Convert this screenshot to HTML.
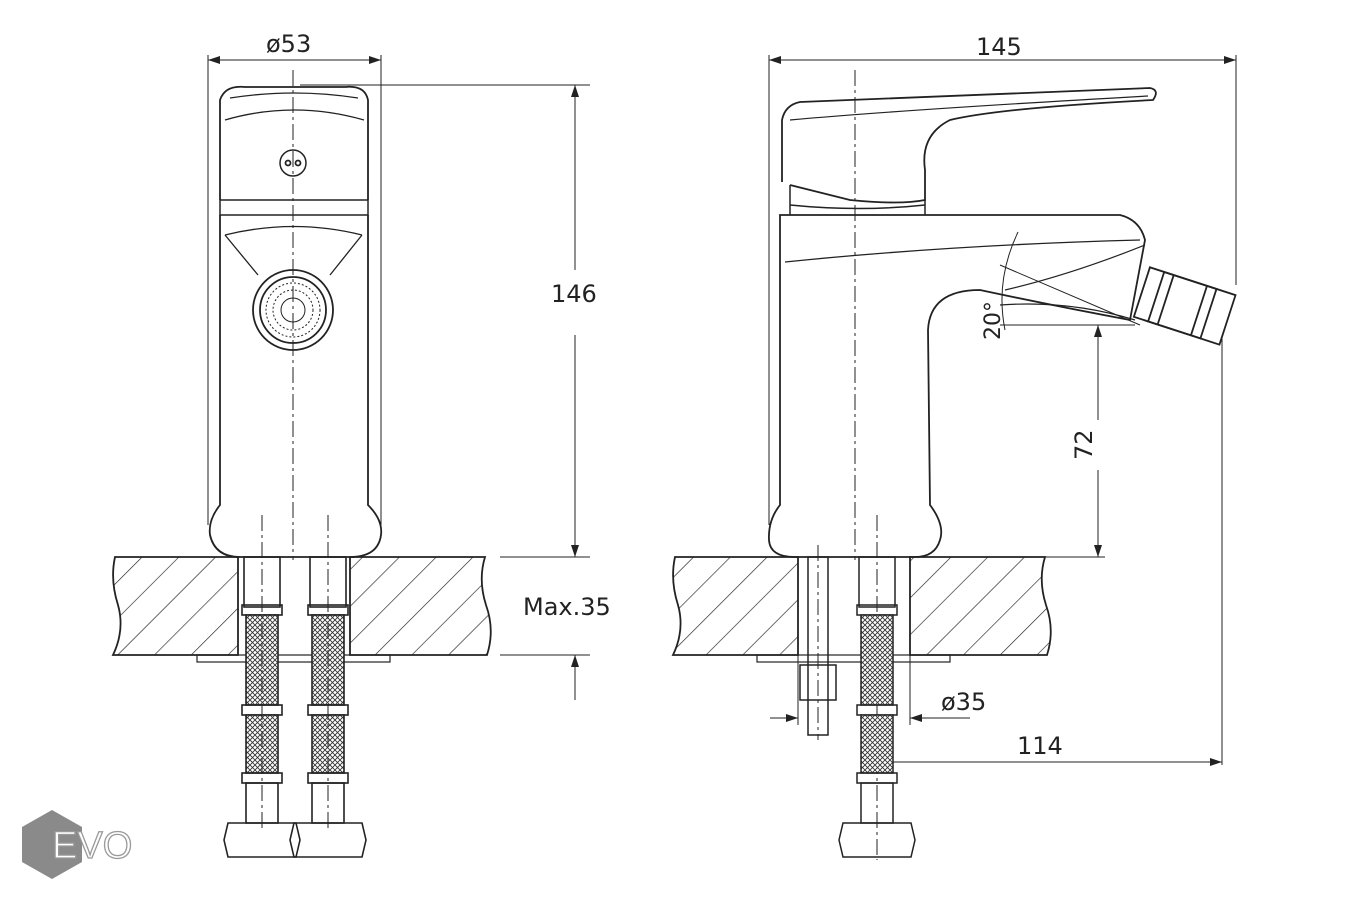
<!DOCTYPE html>
<html><head><meta charset="utf-8"><style>
html,body{margin:0;padding:0;background:#fff;}
svg{display:block;}
text{font-family:"DejaVu Sans","Liberation Sans",sans-serif;fill:#222;}
</style></head><body>
<svg width="1350" height="900" viewBox="0 0 1350 900" xmlns="http://www.w3.org/2000/svg">
<defs>
<pattern id="hatch" patternUnits="userSpaceOnUse" width="26" height="26" patternTransform="rotate(45)">
<rect width="26" height="26" fill="#fff"/><line x1="0" y1="0" x2="0" y2="26" stroke="#222" stroke-width="1.3"/>
</pattern>
<pattern id="mesh" patternUnits="userSpaceOnUse" width="5" height="5">
<rect width="5" height="5" fill="#fff"/><path d="M0 0L5 5M5 0L0 5" stroke="#333" stroke-width="0.9"/>
</pattern>
<marker id="ar" markerWidth="12" markerHeight="8" refX="12" refY="4" orient="auto" markerUnits="userSpaceOnUse">
<path d="M0 0L12 4L0 8Z" fill="#222"/></marker>
</defs>
<g fill="none" stroke="#222" stroke-width="1.8">

<!-- LEFT VIEW -->
<path d="M115 557 L238 557 L238 655 L113 655 Q125 630 118 605 Q110 580 115 557Z" fill="url(#hatch)"/>
<path d="M350 557 L485 557 Q478 580 486 605 Q495 630 487 655 L350 655Z" fill="url(#hatch)"/>
<rect x="197" y="655" width="193" height="7" stroke-width="1.2"/>
<path d="M220 215 L368 215 L368 200 L220 200 Z" stroke-width="1.5"/>
<path d="M220 200 L220 100 Q225 85 245 87 L345 87 Q365 85 368 100 L368 200" />
<path d="M225 120 Q294 100 364 120 M230 98 Q294 88 358 98" stroke-width="1.3"/>
<circle cx="293" cy="163" r="13" stroke-width="1.5"/>
<circle cx="288" cy="163" r="2.5"/><circle cx="298" cy="163" r="2.5"/>
<path d="M220 215 L220 505 Q208 520 210 535 Q215 557 240 557 L350 557 Q378 557 381 535 Q383 520 368 505 L368 215" />
<path d="M225 235 L258 275 M362 235 L330 275 M225 235 Q294 218 362 235" stroke-width="1.3"/>
<circle cx="293" cy="310" r="40"/><circle cx="293" cy="310" r="33"/>
<circle cx="293" cy="310" r="27" stroke-width="1" stroke-dasharray="2 2"/>
<circle cx="293" cy="310" r="20" stroke-width="1" stroke-dasharray="2 2"/>
<circle cx="293" cy="310" r="12" stroke-width="1"/>
<g stroke-width="1.6">
<rect x="244" y="557" width="36" height="50"/><rect x="310" y="557" width="36" height="50"/>
<rect x="242" y="605" width="40" height="10"/><rect x="308" y="605" width="40" height="10"/>
<rect x="246" y="615" width="32" height="90" fill="url(#mesh)"/><rect x="312" y="615" width="32" height="90" fill="url(#mesh)"/>
<rect x="242" y="705" width="40" height="10"/><rect x="308" y="705" width="40" height="10"/>
<rect x="246" y="715" width="32" height="58" fill="url(#mesh)"/><rect x="312" y="715" width="32" height="58" fill="url(#mesh)"/>
<rect x="242" y="773" width="40" height="10"/><rect x="308" y="773" width="40" height="10"/>
<rect x="246" y="783" width="32" height="40"/><rect x="312" y="783" width="32" height="40"/>
<path d="M228 823 L296 823 L300 840 L296 857 L228 857 L224 840Z"/>
<path d="M294 823 L362 823 L366 840 L362 857 L294 857 L290 840Z"/>
</g>
<g stroke-width="1">
<line x1="208" y1="55" x2="208" y2="525"/><line x1="381" y1="55" x2="381" y2="525"/>
<line x1="208" y1="60" x2="381" y2="60" marker-end="url(#ar)"/>
<line x1="381" y1="60" x2="208" y2="60" marker-end="url(#ar)"/>
<line x1="300" y1="85" x2="590" y2="85"/><line x1="500" y1="557" x2="590" y2="557"/>
<line x1="500" y1="655" x2="590" y2="655"/>
<line x1="575" y1="270" x2="575" y2="85" marker-end="url(#ar)"/>
<line x1="575" y1="335" x2="575" y2="557" marker-end="url(#ar)"/>
<line x1="575" y1="700" x2="575" y2="655" marker-end="url(#ar)"/>
<line x1="293" y1="70" x2="293" y2="560" stroke-dasharray="16 4 3 4"/>
<line x1="262" y1="515" x2="262" y2="830" stroke-dasharray="16 4 3 4"/>
<line x1="328" y1="515" x2="328" y2="830" stroke-dasharray="16 4 3 4"/>
</g>

<!-- RIGHT VIEW -->
<path d="M675 557 L798 557 L798 655 L673 655 Q685 630 678 605 Q670 580 675 557Z" fill="url(#hatch)"/>
<path d="M910 557 L1045 557 Q1038 580 1046 605 Q1055 630 1047 655 L910 655Z" fill="url(#hatch)"/>
<rect x="757" y="655" width="193" height="7" stroke-width="1.2"/>
<path d="M782 182 L782 120 Q785 105 800 102 L1150 88 Q1160 90 1153 100 Q1000 108 950 120 Q920 135 925 170 L925 200 Q900 205 850 200 L790 185"/>
<path d="M790 120 Q900 110 1148 96" stroke-width="1.2"/>
<path d="M790 185 L790 215 M925 200 L925 215 M790 205 Q860 212 925 205" stroke-width="1.5"/>
<path d="M780 215 L1120 215 Q1140 220 1145 240 L1130 320 Q1050 305 980 290 Q930 290 928 330 L930 505 Q945 525 940 540 Q935 557 915 557 L795 557 Q770 557 769 540 Q768 520 780 505 Z"/>
<path d="M785 262 Q950 245 1140 240" stroke-width="1.3"/>
<path d="M1005 290 Q1070 275 1145 245 M1000 305 Q1070 300 1135 320" stroke-width="1.2"/>
<g transform="rotate(18 1185 305)">
<rect x="1140" y="280" width="90" height="52"/>
<rect x="1155" y="280" width="55" height="52"/>
<line x1="1165" y1="280" x2="1165" y2="332"/><line x1="1200" y1="280" x2="1200" y2="332"/>
</g>
<g stroke-width="1">
<line x1="769" y1="55" x2="769" y2="525"/><line x1="1236" y1="55" x2="1236" y2="285"/>
<line x1="769" y1="60" x2="1236" y2="60" marker-end="url(#ar)"/>
<line x1="1236" y1="60" x2="769" y2="60" marker-end="url(#ar)"/>
<line x1="1040" y1="557" x2="1105" y2="557"/>
<line x1="1000" y1="325" x2="1135" y2="325"/>
<line x1="1000" y1="265" x2="1140" y2="325"/>
<path d="M1018 232 Q995 280 1005 330" />
<line x1="1098" y1="420" x2="1098" y2="325" marker-end="url(#ar)"/>
<line x1="1098" y1="470" x2="1098" y2="557" marker-end="url(#ar)"/>
<line x1="1222" y1="335" x2="1222" y2="765"/>
<line x1="877" y1="762" x2="1222" y2="762" marker-end="url(#ar)"/>
<line x1="1222" y1="762" x2="877" y2="762" marker-end="url(#ar)"/>
<line x1="770" y1="718" x2="798" y2="718" marker-end="url(#ar)"/>
<line x1="910" y1="718" x2="970" y2="718"/>
<line x1="936" y1="718" x2="910" y2="718" marker-end="url(#ar)"/>
<line x1="798" y1="557" x2="798" y2="725"/><line x1="910" y1="557" x2="910" y2="725"/>
<line x1="855" y1="70" x2="855" y2="560" stroke-dasharray="16 4 3 4"/>
<line x1="877" y1="515" x2="877" y2="860" stroke-dasharray="16 4 3 4"/>
<line x1="818" y1="545" x2="818" y2="740" stroke-dasharray="16 4 3 4"/>
</g>
<g stroke-width="1.5">
<rect x="808" y="557" width="20" height="178"/>
<rect x="800" y="665" width="36" height="35"/>
<rect x="859" y="557" width="36" height="50"/>
<rect x="857" y="605" width="40" height="10"/>
<rect x="861" y="615" width="32" height="90" fill="url(#mesh)"/>
<rect x="857" y="705" width="40" height="10"/>
<rect x="861" y="715" width="32" height="58" fill="url(#mesh)"/>
<rect x="857" y="773" width="40" height="10"/>
<rect x="861" y="783" width="32" height="40"/>
<path d="M843 823 L911 823 L915 840 L911 857 L843 857 L839 840Z"/>
</g>
</g>
<g font-size="24">
<text x="266" y="52">ø53</text>
<rect x="555" y="278" width="42" height="30" fill="#fff"/>
<text x="551" y="302">146</text>
<text x="523" y="615">Max.35</text>
<text x="976" y="55">145</text>
<text x="941" y="710">ø35</text>
<text x="1017" y="754">114</text>
<text transform="translate(1092 460) rotate(-90)">72</text>
<text transform="translate(1000 340) rotate(-90)" font-size="22">20°</text>
</g>
<polygon points="52,810 82,827 82,862 52,879 22,862 22,827" fill="#8a8a8a"/>
<text x="52" y="858" font-size="38" style="fill:#fff;stroke:#999;stroke-width:1.3;font-family:'Liberation Sans',sans-serif">EVO</text>
</svg>
</body></html>
